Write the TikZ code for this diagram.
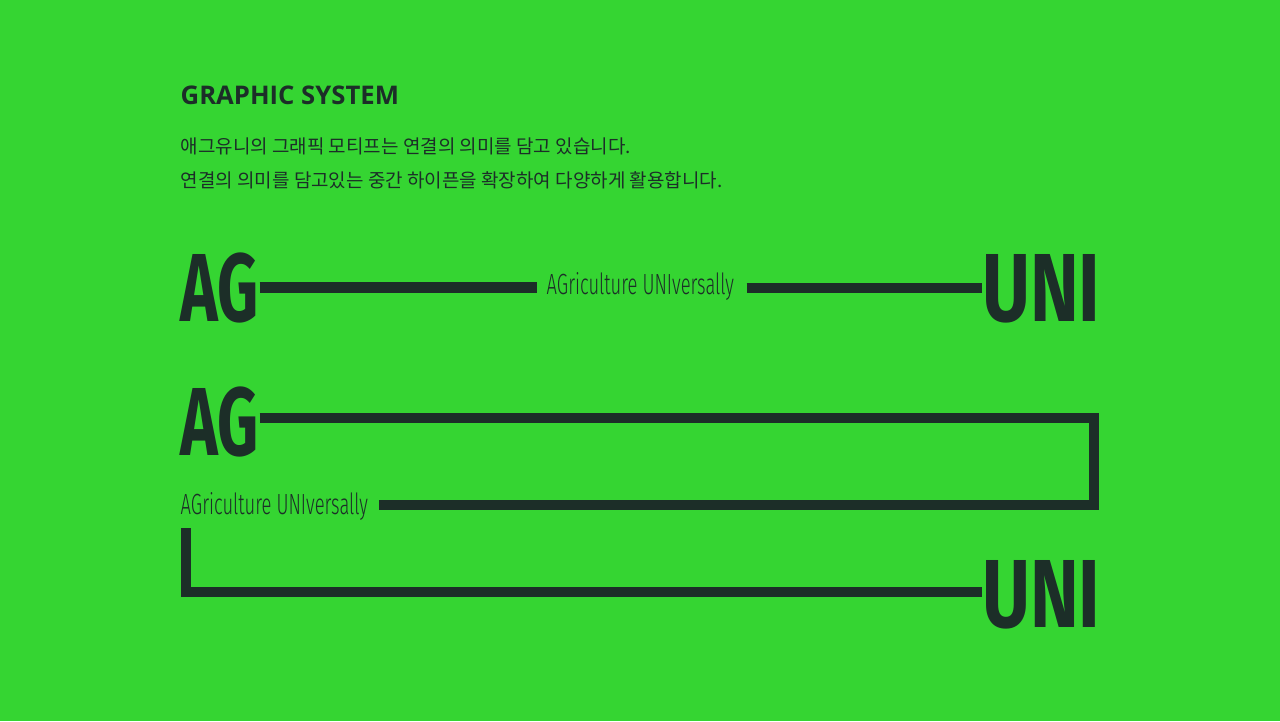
\documentclass[tikz,border=0pt]{standalone}
\usepackage{fontspec}
\setmainfont{Fira Sans}
\newfontfamily\krfont{Noto Sans CJK KR}
\newfontfamily\titlefont{Open Sans}
\newfontfamily\bigfont[FakeStretch=0.66]{Fira Sans}
\newfontfamily\widefont[FakeStretch=0.76]{Fira Sans}
\newfontfamily\slimfont[FakeStretch=0.63]{Fira Sans Light}
\definecolor{agbg}{RGB}{53,213,50}
\definecolor{agink}{RGB}{28,46,40}
\tikzset{
	bigword/.style={inner sep=0pt, text=agink, font=\bigfont\bfseries\fontsize{27.5}{28}\selectfont},
	uniword/.style={bigword, font=\widefont\bfseries\fontsize{27.5}{28}\selectfont},
	slogan/.style={inner sep=0pt, text=agink, font=\slimfont\fontsize{8.3}{9}\selectfont},
	intro/.style={anchor=west, inner sep=0pt, text=agink, font=\krfont\fontsize{5.4}{6}\selectfont},
	bar/.style={line width=0.1cm, color=agink, line join=miter},
}
\begin{document}
\begin{tikzpicture}[x=0.01cm, y=-0.01cm]
		%%%%% START %%%%%
		
		\fill[agbg] (0, 0) rectangle (1280, 721);
		
		\node[anchor=base west, inner sep=0pt, text=agink, font=\titlefont\bfseries\fontsize{7.3}{8}\selectfont] (title) at (180, 104) {GRAPHIC SYSTEM};
		\node[intro] (line1) at (180, 146) {애그유니의 그래픽 모티프는 연결의 의미를 담고 있습니다.};
		\node[intro] (line2) at (180, 180) {연결의 의미를 담고있는 중간 하이픈을 확장하여 다양하게 활용합니다.};
		
		%%%%% ROW 1 %%%%%
		\node[bigword, anchor=base west] (ag1) at (180, 321) {AG};
		\node[slogan, anchor=west] (slogan1) at (546, 286) {AGriculture UNIversally};
		\node[uniword, anchor=base east] (uni1) at (1101, 321) {UNI};
		\draw[bar] (ag1.east) -- ([xshift=-2.6pt]slogan1.west |- ag1.east);
		\draw[bar] ([xshift=3.4pt]slogan1.east |- uni1.west) -- (uni1.west);
		
		%%%%% ROW 2 %%%%%
		\node[bigword, anchor=base west] (ag2) at (180, 455) {AG};
		\node[slogan, anchor=west] (slogan2) at (180, 506) {AGriculture UNIversally};
		\coordinate (turn1) at (1094, 418);
		\coordinate (turn2) at (1094, 505);
		\draw[bar] (ag2.east |- turn1) -- (turn1) -- (turn2) -- ([xshift=2.8pt]slogan2.east |- turn2);
		
		\node[uniword, anchor=base east] (uni2) at (1101, 627) {UNI};
		\coordinate (drop1) at (186, 528);
		\coordinate (drop2) at (186, 592);
		\draw[bar] (drop1) -- (drop2) -- (uni2.west |- drop2);
		
		%%%%% END %%%%%
	\end{tikzpicture}
\end{document}
